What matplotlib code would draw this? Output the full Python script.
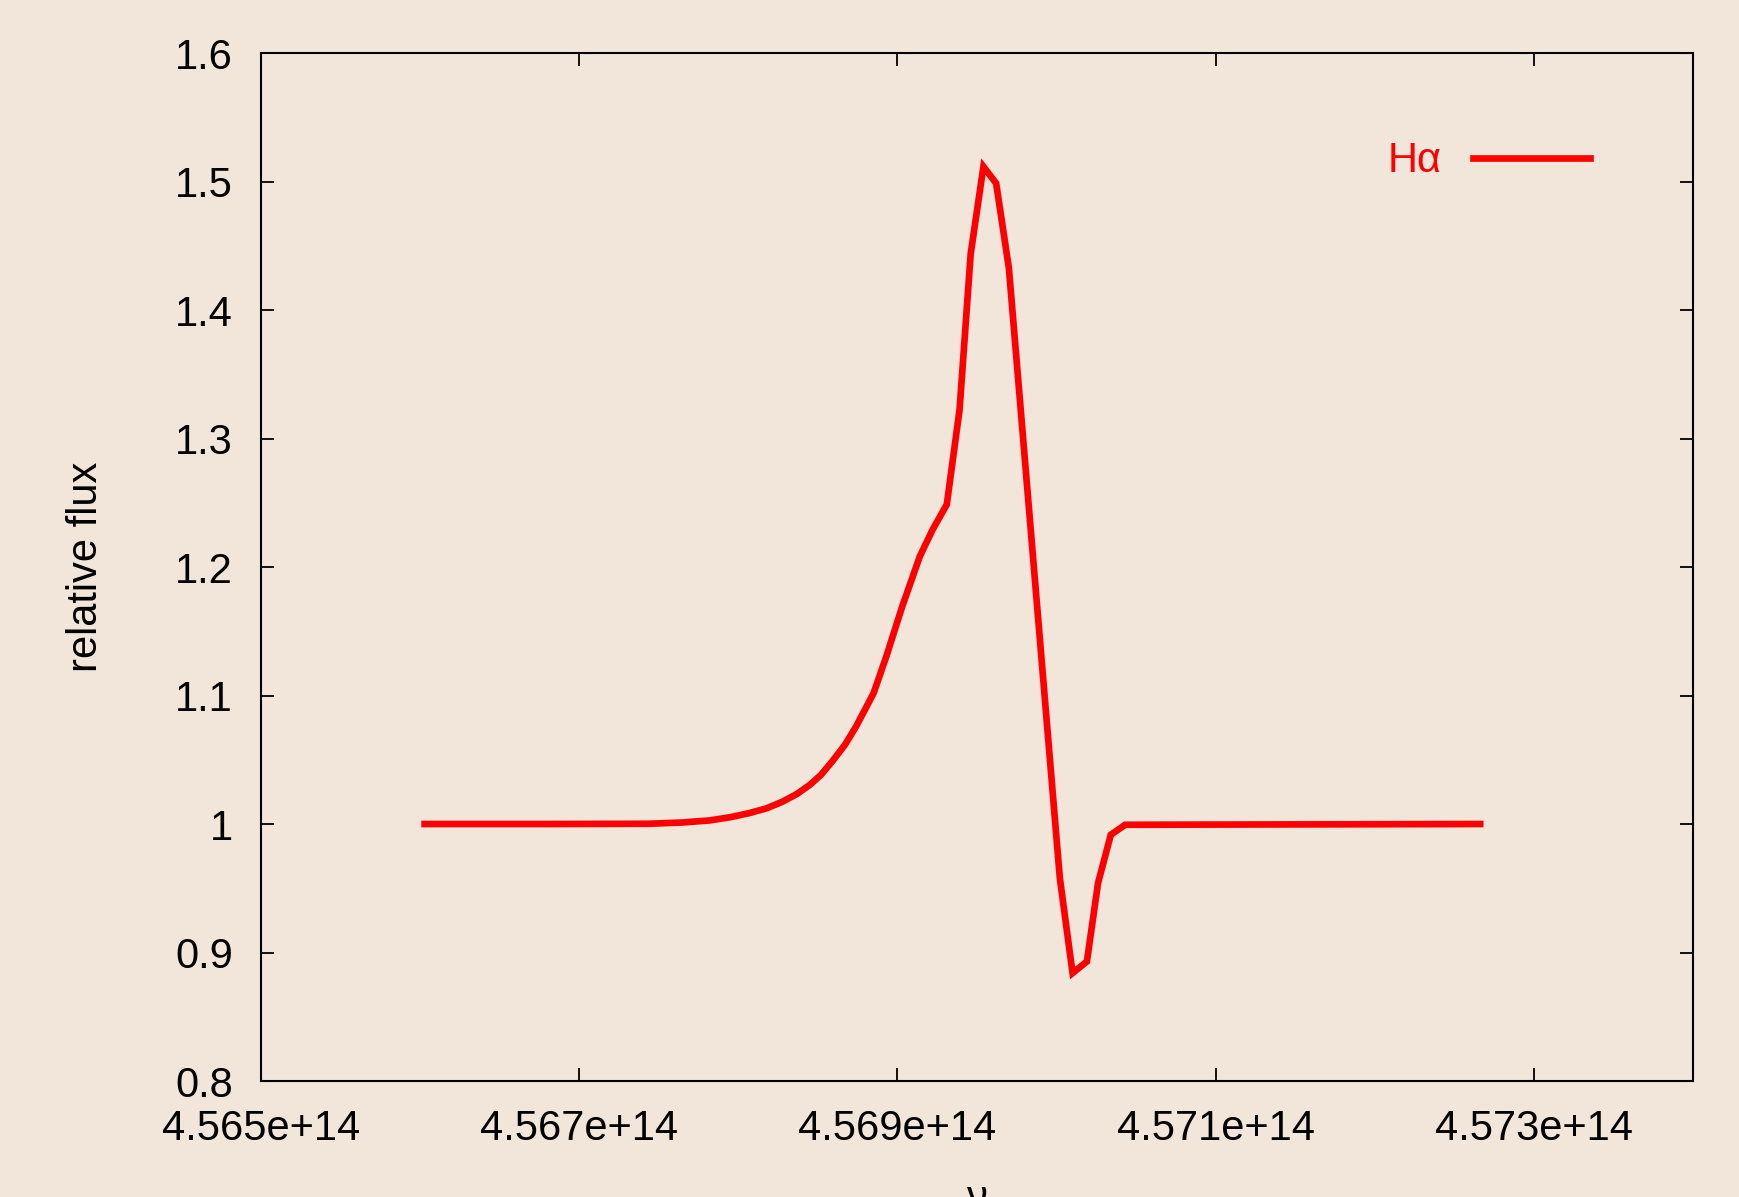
import matplotlib
matplotlib.use("Agg")
from matplotlib import pyplot as plt

# H-alpha line profile
nu = [4.56603e14, 4.56682e14, 4.56744e14, 4.56765e14, 4.56782e14,
      4.56795e14, 4.56807e14, 4.56818e14, 4.56828e14, 4.56837e14,
      4.56845e14, 4.56852e14, 4.56859e14, 4.56867e14, 4.56874e14,
      4.56885e14, 4.56893e14, 4.56903e14, 4.56914e14, 4.56922e14,
      4.56931e14, 4.56939e14, 4.56946e14, 4.56954e14, 4.56962e14,
      4.56970e14, 4.57002e14, 4.57010e14, 4.57019e14, 4.57026e14,
      4.57034e14, 4.57043e14, 4.57266e14]
flux = [1.000, 1.000, 1.0002, 1.0012, 1.0028,
        1.0053, 1.0085, 1.0123, 1.0175, 1.0235,
        1.0305, 1.0383, 1.0487, 1.0616, 1.0759,
        1.1018, 1.1304, 1.1693, 1.2081, 1.2289,
        1.2487, 1.3223, 1.4437, 1.5116, 1.4986,
        1.4325, 0.9579, 0.8840, 0.8930, 0.9540,
        0.9916, 0.9994, 1.000]

xticks = [4.565e14, 4.567e14, 4.569e14, 4.571e14, 4.573e14]
xticklabels = ['4.565e+14', '4.567e+14', '4.569e+14', '4.571e+14', '4.573e+14']
yticks = [0.8, 0.9, 1.0, 1.1, 1.2, 1.3, 1.4, 1.5, 1.6]
yticklabels = ['0.8', '0.9', '1', '1.1', '1.2', '1.3', '1.4', '1.5', '1.6']

bg = '#f2e5d9'
plt.rcParams['font.family'] = ['Liberation Sans', 'DejaVu Sans']

fig = plt.figure(figsize=(17.39, 11.97), dpi=100, facecolor=bg)
ax = fig.add_axes([0.1499, 0.0969, 0.8239, 0.8588])
ax.set_facecolor(bg)

ax.plot(nu, flux, color='#ff0000', lw=4.8, solid_joinstyle='miter', label='H\u03b1')

ax.set_xlim(4.565e14, 4.574e14)
ax.set_ylim(0.8, 1.6)
ax.set_xticks(xticks)
ax.set_xticklabels(xticklabels)
ax.set_yticks(yticks)
ax.set_yticklabels(yticklabels)
ax.tick_params(direction='in', length=9.5, width=1.3, top=True, right=True,
               labelsize=30, colors='black')
ax.tick_params(axis='x', pad=20)
ax.tick_params(axis='y', pad=20)
for s in ax.spines.values():
    s.set_linewidth(1.5)

ax.set_ylabel('relative flux', fontsize=30, labelpad=50)
ax.set_xlabel('\u03bd', fontsize=30, labelpad=22)

leg = ax.legend(loc='center right', bbox_to_anchor=(0.9278, 0.8945), frameon=False,
                markerfirst=False, handlelength=2.8, fontsize=30,
                handletextpad=0.75, borderpad=0, borderaxespad=0)
for t in leg.get_texts():
    t.set_color('#ff0000')

plt.savefig('out.png', facecolor=bg)
